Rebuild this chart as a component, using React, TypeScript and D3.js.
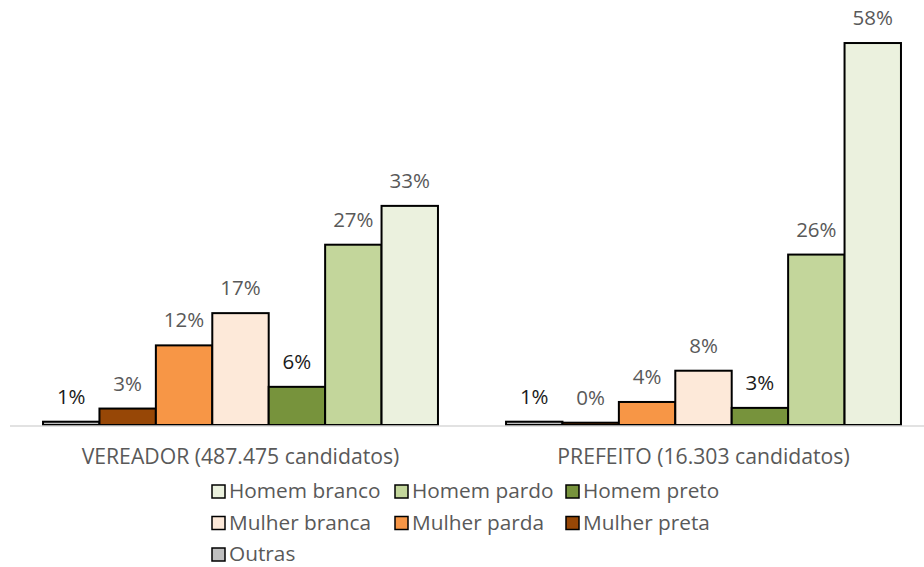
import React from "react";
import * as d3 from "d3";

const categories = ["VEREADOR (487.475 candidatos)", "PREFEITO (16.303 candidatos)"];
const seriesNames = ["Outras", "Mulher preta", "Mulher parda", "Mulher branca", "Homem preto", "Homem pardo", "Homem branco"];
const vereadorValues = [0.5, 2.5, 12.1, 17.0, 5.8, 27.4, 33.3];
const prefeitoValues = [0.5, 0.35, 3.5, 8.25, 2.6, 25.9, 58.05];
const vereadorLabels = ["1%", "3%", "12%", "17%", "6%", "27%", "33%"];
const prefeitoLabels = ["1%", "0%", "4%", "8%", "3%", "26%", "58%"];
const seriesColors = ["#bfbfbf", "#974706", "#f79646", "#fde9d9", "#77933c", "#c3d69b", "#ebf1de"];
const labelColors = ["#1a1a1a", "#595959", "#595959", "#595959", "#1a1a1a", "#595959", "#595959"];
const legendRows = [
  ["Homem branco", "Homem pardo", "Homem preto"],
  ["Mulher branca", "Mulher parda", "Mulher preta"],
  ["Outras"],
];

const W = 924;
const H = 567;
const FONT = "'Open Sans', sans-serif";

export default function App() {
  const values = [vereadorValues, prefeitoValues];
  const labels = [vereadorLabels, prefeitoLabels];
  const x0 = d3.scaleBand<string>().domain(categories).range([9, 935]).paddingInner(0.147).paddingOuter(0.0735);
  const x1 = d3.scaleBand<string>().domain(seriesNames).range([0, x0.bandwidth()]);
  const y = d3.scaleLinear().domain([0, 60]).range([425, 425 - 60 * 6.58]);

  const legendColX = [212, 395, 566];
  const legendRowY = [498, 529.5, 561];

  return (
    <svg width={W} height={H} style={{ position: "absolute", left: 0, top: 0, background: "#fff" }}>
      {categories.map((c, ci) => (
        <g key={c} transform={`translate(${x0(c)},0)`}>
          {seriesNames.map((s, si) => {
            const v = values[ci][si];
            const top = y(v);
            return (
              <g key={s}>
                <rect
                  x={x1(s)}
                  y={top}
                  width={x1.bandwidth()}
                  height={y(0) - top}
                  fill={seriesColors[si]}
                  stroke="#000"
                  strokeWidth={2}
                />
                <text
                  x={(x1(s) as number) + x1.bandwidth() / 2}
                  y={top - 18}
                  textAnchor="middle"
                  fontFamily={FONT}
                  fontSize={20.5}
                  fill={labelColors[si]}
                >
                  {labels[ci][si]}
                </text>
              </g>
            );
          })}
        </g>
      ))}
      <line x1={10} x2={924} y1={y(0) + 1} y2={y(0) + 1} stroke="#d9d9d9" strokeWidth={1.5} />
      {categories.map((c) => (
        <text
          key={c}
          x={(x0(c) as number) + x0.bandwidth() / 2}
          y={464}
          textAnchor="middle"
          fontFamily={FONT}
          fontSize={21.2}
          fill="#595959"
        >
          {c}
        </text>
      ))}
      {legendRows.map((row, ri) =>
        row.map((name, ci) => {
          const si = seriesNames.indexOf(name);
          return (
            <g key={name} transform={`translate(${legendColX[ci]},${legendRowY[ri]})`}>
              <rect x={0} y={-13} width={13} height={13} fill={seriesColors[si]} stroke="#000" strokeWidth={1.5} />
              <text x={17} y={0} fontFamily={FONT} fontSize={20.8} fill="#595959">
                {name}
              </text>
            </g>
          );
        })
      )}
    </svg>
  );
}
